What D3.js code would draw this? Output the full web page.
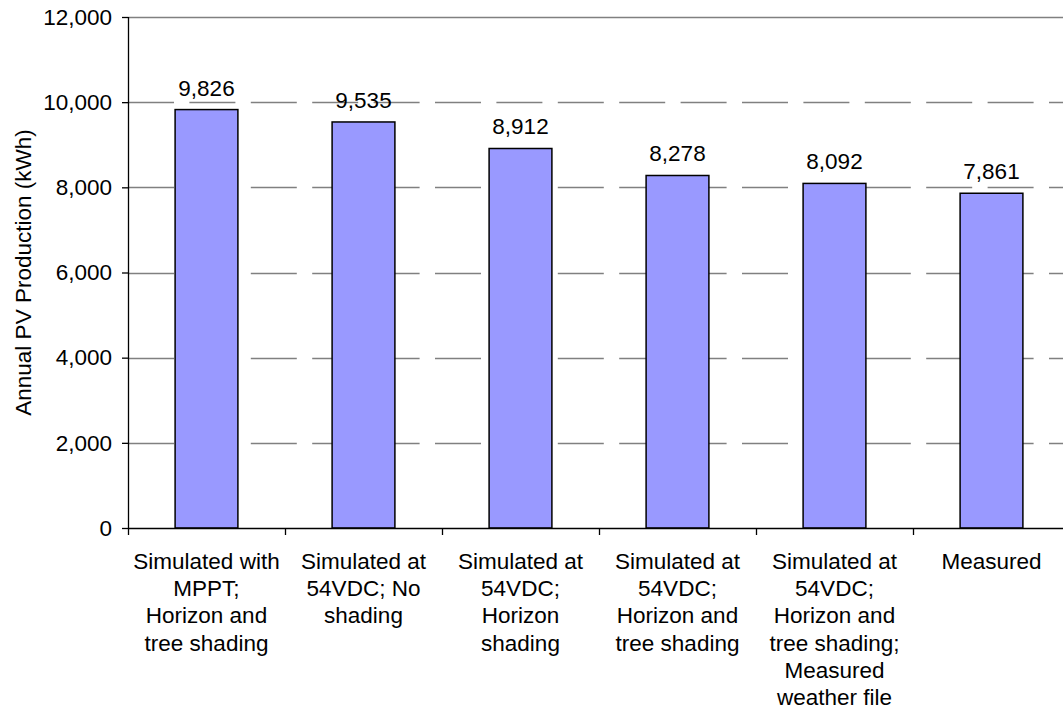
<!DOCTYPE html>
<html lang="en">
<head>
<meta charset="utf-8">
<title>Annual PV Production</title>
<script src="https://d3js.org/d3.v7.min.js"></script>
<style>
  body { margin: 0; background: #fff; }
  text { font-family: "Liberation Sans", Arial, sans-serif; fill: #000; }
</style>
</head>
<body>
<script>
// categories (one entry per line of the wrapped label)
var categories = [
  ["Simulated with", "MPPT;", "Horizon and", "tree shading"],
  ["Simulated at", "54VDC; No", "shading"],
  ["Simulated at", "54VDC;", "Horizon", "shading"],
  ["Simulated at", "54VDC;", "Horizon and", "tree shading"],
  ["Simulated at", "54VDC;", "Horizon and", "tree shading;", "Measured", "weather file"],
  ["Measured"]
];
var production = [9826, 9535, 8912, 8278, 8092, 7861];
var yTicks = [0, 2000, 4000, 6000, 8000, 10000, 12000];

var W = 1063, H = 712;
var plot = {left: 128, top: 17, bottom: 528, right: 1070};
var fontSize = 22.5;

var svg = d3.select("body").append("svg")
    .attr("width", W)
    .attr("height", H);

var x = d3.scaleBand()
    .domain(d3.range(categories.length))
    .range([plot.left, plot.right])
    .paddingInner(0.6)
    .paddingOuter(0.3);

var y = d3.scaleLinear()
    .domain([0, 12000])
    .range([plot.bottom, plot.top]);

// gridlines
svg.append("g")
   .selectAll("line")
   .data(yTicks.filter(function (d) { return d > 0; }))
   .enter()
   .append("line")
   .attr("x1", plot.left)
   .attr("x2", W)
   .attr("y1", function (d) { return Math.round(y(d)) + 0.5; })
   .attr("y2", function (d) { return Math.round(y(d)) + 0.5; })
   .attr("stroke", "#808080")
   .attr("stroke-width", 1.3)
   .attr("stroke-dasharray", function (d) { return d == 12000 ? null : "46,15.4"; });

// bars
svg.append("g")
   .selectAll("rect")
   .data(production)
   .enter()
   .append("rect")
   .attr("x", function (d, i) { return x(i); })
   .attr("y", function (d) { return y(d); })
   .attr("width", x.bandwidth())
   .attr("height", function (d) { return y(0) - y(d); })
   .attr("fill", "#9999ff")
   .attr("stroke", "#000")
   .attr("stroke-width", 1.5);

// value labels
svg.append("g")
   .selectAll("text")
   .data(production)
   .enter()
   .append("text")
   .attr("x", function (d, i) { return x(i) + x.bandwidth() / 2; })
   .attr("y", function (d) { return y(d) - 14; })
   .attr("text-anchor", "middle")
   .style("font-size", fontSize + "px")
   .text(function (d) { return d3.format(",")(d); });

// Y axis
var yAxis = svg.append("g")
    .attr("transform", "translate(" + plot.left + ",0)")
    .call(d3.axisLeft(y).tickValues(yTicks).tickFormat(d3.format(",")).tickSize(6).tickPadding(10));
yAxis.selectAll("text")
    .style("font-size", fontSize + "px")
    .style("font-family", "Liberation Sans, Arial, sans-serif");
yAxis.select(".domain").attr("stroke", "#000").attr("stroke-width", 1.3)
    .attr("d", "M0.5," + plot.top + "V" + plot.bottom);
yAxis.selectAll(".tick line").attr("stroke", "#000").attr("stroke-width", 1.3);

// X axis: ticks sit on the band boundaries
var bounds = d3.range(categories.length + 1).map(function (i) { return plot.left + i * x.step(); });
svg.append("line")
   .attr("x1", plot.left)
   .attr("x2", W)
   .attr("y1", plot.bottom + 0.5)
   .attr("y2", plot.bottom + 0.5)
   .attr("stroke", "#000")
   .attr("stroke-width", 1.3);
svg.append("g")
   .selectAll("line")
   .data(bounds)
   .enter()
   .append("line")
   .attr("x1", function (d) { return Math.round(d) + 0.5; })
   .attr("x2", function (d) { return Math.round(d) + 0.5; })
   .attr("y1", plot.bottom)
   .attr("y2", plot.bottom + 7)
   .attr("stroke", "#000")
   .attr("stroke-width", 1.3);

// category labels
var cat = svg.append("g")
    .selectAll("text")
    .data(categories)
    .enter()
    .append("text")
    .attr("text-anchor", "middle")
    .style("font-size", fontSize + "px");
cat.selectAll("tspan")
   .data(function (d, i) { return d.map(function (s) { return { s: s, i: i }; }); })
   .enter()
   .append("tspan")
   .attr("x", function (d) { return x(d.i) + x.bandwidth() / 2; })
   .attr("y", function (d, j) { return 569 + j * 27.2; })
   .text(function (d) { return d.s; });

// Y axis title
svg.append("text")
   .attr("transform", "rotate(-90)")
   .attr("x", -(plot.top + plot.bottom) / 2)
   .attr("y", 31)
   .attr("text-anchor", "middle")
   .style("font-size", fontSize + "px")
   .text("Annual PV Production (kWh)");
</script>
</body>
</html>
